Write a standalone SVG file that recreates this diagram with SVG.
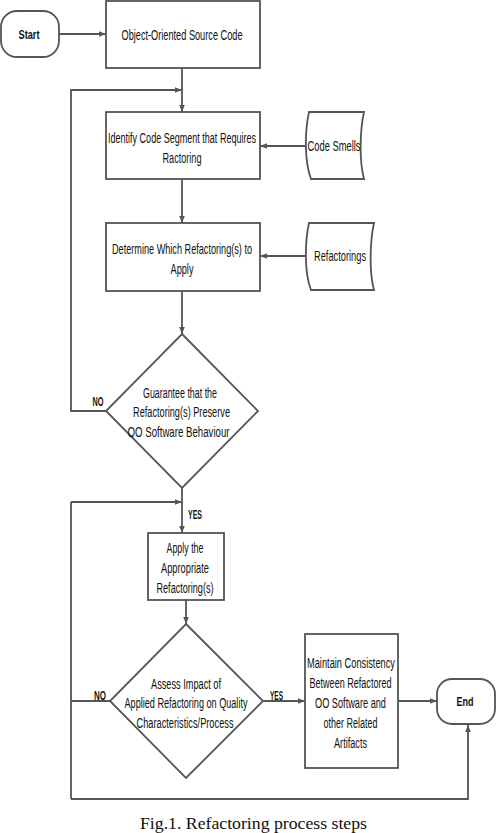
<svg xmlns="http://www.w3.org/2000/svg" width="496" height="833" viewBox="0 0 496 833">
<defs>
<style>
.n{fill:#fff;stroke:#555;stroke-width:1.8}
.c{fill:none;stroke:#555;stroke-width:1.8}
.t{font-family:"Liberation Sans",Arial,sans-serif;font-size:15px;fill:#111;text-anchor:middle}
.b{font-family:"Liberation Sans",Arial,sans-serif;font-size:13px;font-weight:bold;fill:#111;text-anchor:middle}
.cap{font-family:"Liberation Serif","Times New Roman",serif;font-size:16px;fill:#111}
</style>
<marker id="ah" viewBox="0 0 10 10" refX="10" refY="5" markerWidth="7" markerHeight="7" markerUnits="userSpaceOnUse" orient="auto">
<path d="M0,1 L10,5 L0,9 Z" fill="#555"/>
</marker>
</defs>
<rect width="496" height="833" fill="#fff"/>
<g id="connectors">
<line class="c" x1="59" y1="34" x2="106" y2="34" marker-end="url(#ah)"/>
<line class="c" x1="182" y1="68" x2="182" y2="112" marker-end="url(#ah)"/>
<line class="c" x1="307" y1="146" x2="260" y2="146" marker-end="url(#ah)"/>
<line class="c" x1="182" y1="179" x2="182" y2="223" marker-end="url(#ah)"/>
<line class="c" x1="307" y1="256" x2="260" y2="256" marker-end="url(#ah)"/>
<line class="c" x1="182" y1="291" x2="182" y2="334" marker-end="url(#ah)"/>
<polyline class="c" points="106,411 71,411 71,90 182,90" marker-end="url(#ah)"/>
<line class="c" x1="182" y1="488" x2="182" y2="533" marker-end="url(#ah)"/>
<line class="c" x1="71" y1="502" x2="182" y2="502" marker-end="url(#ah)"/>
<line class="c" x1="71" y1="502" x2="71" y2="799"/>
<line class="c" x1="110" y1="701" x2="71" y2="701"/>
<polyline class="c" points="71,799 468,799 468,725" marker-end="url(#ah)"/>
<line class="c" x1="186" y1="600" x2="186" y2="624" marker-end="url(#ah)"/>
<line class="c" x1="263" y1="701" x2="305" y2="701" marker-end="url(#ah)"/>
<line class="c" x1="398" y1="701" x2="437" y2="701" marker-end="url(#ah)"/>
<text class="b" transform="translate(98,406) scale(0.65,1)" textLength="17" lengthAdjust="spacingAndGlyphs">NO</text>
<text class="b" transform="translate(195,519) scale(0.65,1)" textLength="21.5" lengthAdjust="spacingAndGlyphs">YES</text>
<text class="b" transform="translate(100,700) scale(0.65,1)" textLength="18.5" lengthAdjust="spacingAndGlyphs">NO</text>
<text class="b" transform="translate(276.5,700) scale(0.65,1)" textLength="20" lengthAdjust="spacingAndGlyphs">YES</text>
</g>
<g id="start">
<rect class="n" x="1" y="11" width="58" height="46" rx="16"/>
<text class="b" font-size="14" transform="translate(29,39) scale(0.65,1)" textLength="32.3" lengthAdjust="spacingAndGlyphs">Start</text>
</g>
<g id="source">
<rect class="n" x="106" y="1" width="154" height="67"/>
<text class="t" transform="translate(182,39.5) scale(0.65,1)" textLength="186.2" lengthAdjust="spacingAndGlyphs">Object-Oriented Source Code</text>
</g>
<g id="identify">
<rect class="n" x="106" y="112" width="154" height="67"/>
<text class="t" transform="translate(182,143) scale(0.65,1)" textLength="227.7" lengthAdjust="spacingAndGlyphs">Identify Code Segment that Requires</text>
<text class="t" transform="translate(182,163) scale(0.65,1)" textLength="60" lengthAdjust="spacingAndGlyphs">Ractoring</text>
</g>
<g id="smells">
<path class="n" d="M309,112 L364,112 C360,130 359,160 364,179 L311,179 C304,160 305,130 309,112 Z"/>
<text class="t" transform="translate(334,151) scale(0.65,1)" textLength="81.5" lengthAdjust="spacingAndGlyphs">Code Smells</text>
</g>
<g id="determine">
<rect class="n" x="106" y="223" width="154" height="68"/>
<text class="t" transform="translate(182,253.5) scale(0.65,1)" textLength="215.4" lengthAdjust="spacingAndGlyphs">Determine Which Refactoring(s) to</text>
<text class="t" transform="translate(182,273.5) scale(0.65,1)" textLength="35.4" lengthAdjust="spacingAndGlyphs">Apply</text>
</g>
<g id="refactorings">
<path class="n" d="M309,223 L374,223 C370,241 369,272 374,290 L311,290 C304,272 305,241 309,223 Z"/>
<text class="t" transform="translate(340,261) scale(0.65,1)" textLength="80" lengthAdjust="spacingAndGlyphs">Refactorings</text>
</g>
<g id="guarantee">
<polygon class="n" points="182,334 258,411 182,488 106,411"/>
<text class="t" transform="translate(180,397.5) scale(0.65,1)" textLength="113.8" lengthAdjust="spacingAndGlyphs">Guarantee that the</text>
<text class="t" transform="translate(181.5,417) scale(0.65,1)" textLength="149.2" lengthAdjust="spacingAndGlyphs">Refactoring(s) Preserve</text>
<text class="t" transform="translate(178.5,437) scale(0.65,1)" textLength="156.9" lengthAdjust="spacingAndGlyphs">OO Software Behaviour</text>
</g>
<g id="apply">
<rect class="n" x="148" y="533" width="76" height="67"/>
<text class="t" transform="translate(185,553) scale(0.65,1)" textLength="56.9" lengthAdjust="spacingAndGlyphs">Apply the</text>
<text class="t" transform="translate(185,573) scale(0.65,1)" textLength="73.8" lengthAdjust="spacingAndGlyphs">Appropriate</text>
<text class="t" transform="translate(185,592.5) scale(0.65,1)" textLength="87.7" lengthAdjust="spacingAndGlyphs">Refactoring(s)</text>
</g>
<g id="assess">
<polygon class="n" points="186,624 263,701 186,778 110,701"/>
<text class="t" transform="translate(186,688.5) scale(0.65,1)" textLength="107.7" lengthAdjust="spacingAndGlyphs">Assess Impact of</text>
<text class="t" transform="translate(186,708) scale(0.65,1)" textLength="189.2" lengthAdjust="spacingAndGlyphs">Applied Refactoring on Quality</text>
<text class="t" transform="translate(185,728) scale(0.65,1)" textLength="149.2" lengthAdjust="spacingAndGlyphs">Characteristics/Process</text>
</g>
<g id="maintain">
<rect class="n" x="305" y="634" width="93" height="134"/>
<text class="t" transform="translate(351,668) scale(0.65,1)" textLength="135.4" lengthAdjust="spacingAndGlyphs">Maintain Consistency</text>
<text class="t" transform="translate(350.5,688) scale(0.65,1)" textLength="126.2" lengthAdjust="spacingAndGlyphs">Between Refactored</text>
<text class="t" transform="translate(350.5,708) scale(0.65,1)" textLength="109.2" lengthAdjust="spacingAndGlyphs">OO Software and</text>
<text class="t" transform="translate(350.5,728) scale(0.65,1)" textLength="83.1" lengthAdjust="spacingAndGlyphs">other Related</text>
<text class="t" transform="translate(350.5,748) scale(0.65,1)" textLength="50.8" lengthAdjust="spacingAndGlyphs">Artifacts</text>
</g>
<g id="end">
<rect class="n" x="437" y="679" width="58" height="45" rx="15"/>
<text class="b" font-size="14" transform="translate(465,706) scale(0.65,1)" textLength="26.2" lengthAdjust="spacingAndGlyphs">End</text>
</g>
<text class="cap" x="140" y="829" textLength="227" lengthAdjust="spacingAndGlyphs">Fig.1. Refactoring process steps</text>
</svg>
